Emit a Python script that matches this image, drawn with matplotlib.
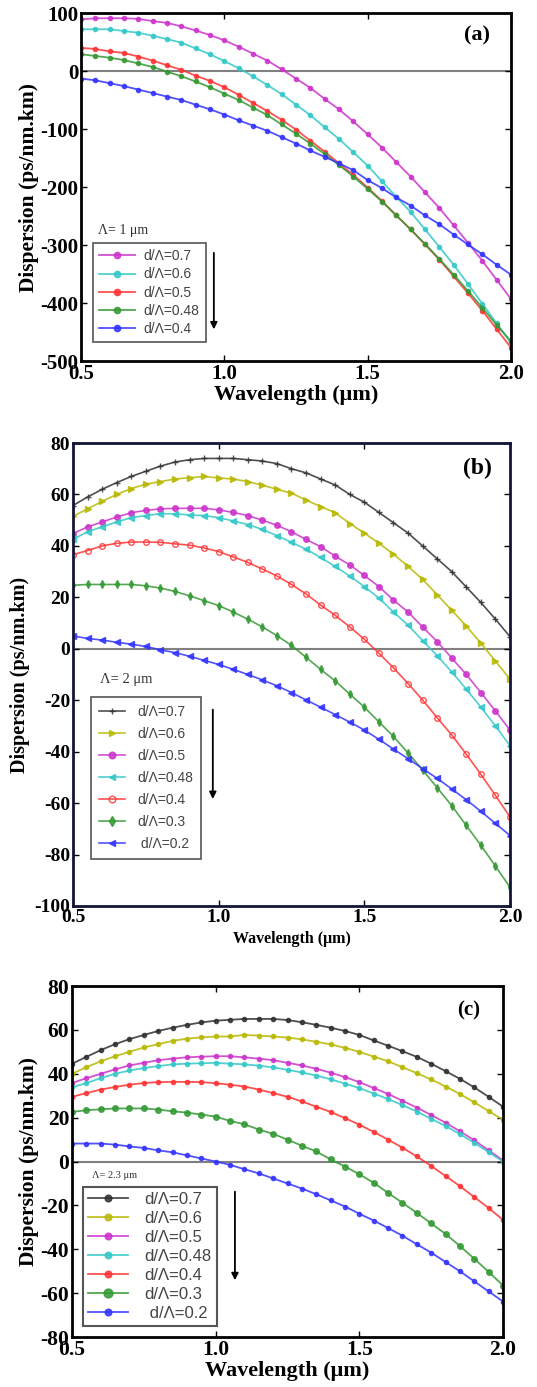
import numpy as np
import matplotlib
matplotlib.use('Agg')
import matplotlib.pyplot as plt

plt.rcParams['axes.unicode_minus'] = False

# wavelength samples (um), one marker every 0.05
wl = [0.50, 0.55, 0.60, 0.65, 0.70, 0.75, 0.80, 0.85, 0.90, 0.95,
      1.00, 1.05, 1.10, 1.15, 1.20, 1.25, 1.30, 1.35, 1.40, 1.45,
      1.50, 1.55, 1.60, 1.65, 1.70, 1.75, 1.80, 1.85, 1.90, 1.95, 2.00]

# (a) pitch 1 um
a_labels = ['d/\u039b=0.7', 'd/\u039b=0.6', 'd/\u039b=0.5', 'd/\u039b=0.48', 'd/\u039b=0.4']
a_07 = [89, 91, 91, 91, 90, 86, 83, 77, 70, 62, 53, 42, 30, 18, 3, -13, -29, -48, -66, -87,
        -109, -132, -157, -182, -209, -236, -266, -296, -327, -360, -393]
a_06 = [72, 72, 72, 69, 66, 61, 55, 49, 39, 29, 17, 5, -9, -24, -40, -58, -76, -97, -117, -140,
        -163, -190, -217, -243, -273, -303, -334, -367, -401, -435, -468]
a_05 = [40, 38, 34, 31, 25, 18, 10, 2, -8, -17, -28, -41, -55, -69, -84, -101, -120, -139, -159, -179,
        -201, -224, -249, -273, -299, -325, -354, -383, -413, -445, -477]
a_048 = [29, 26, 23, 19, 13, 7, -1, -9, -18, -28, -39, -50, -63, -76, -92, -108, -125, -143, -162, -182,
         -203, -225, -249, -273, -298, -324, -351, -379, -408, -438, -466]
a_04 = [-13, -16, -21, -26, -32, -38, -44, -50, -58, -66, -75, -85, -94, -103, -114, -125, -137, -148, -159, -171,
        -188, -202, -218, -232, -249, -264, -282, -299, -316, -334, -351]

# (b) pitch 2 um
b_labels = ['d/\u039b=0.7', 'd/\u039b=0.6', 'd/\u039b=0.5', 'd/\u039b=0.48', 'd/\u039b=0.4', 'd/\u039b=0.3', ' d/\u039b=0.2']
b_07 = [55.7, 59, 62, 64.6, 67, 69, 71, 72.6, 73.5, 74, 74, 74, 73.5, 73, 72, 70, 68.4, 66, 63.7, 60,
        57, 53, 49, 45, 40, 35, 30, 24, 18, 11.5, 4.7]
b_06 = [51.5, 54.4, 57.3, 60, 62.3, 64, 65, 66, 66.5, 67, 66.4, 66, 65, 63.6, 62, 60.5, 57.8, 55.3, 52.9, 48.7,
        45, 41, 36.8, 32, 27, 21, 15, 8.8, 2.2, -4.8, -11.8]
b_05 = [44.8, 47.4, 49.3, 51.2, 52.9, 53.8, 54.4, 54.6, 54.6, 54.6, 54, 53, 51.8, 50, 48, 45.5, 42.5, 39.7, 36, 32.6,
        28.5, 24.2, 18.9, 14.3, 8.5, 2.8, -3.6, -10, -17, -24.2, -31.6]
b_048 = [42.5, 45.5, 47.4, 49.3, 51, 51.8, 52.5, 52.5, 52, 51.8, 51, 49.7, 48.3, 46.4, 44, 41.4, 38.7, 35.5, 32, 28.3,
         24.2, 19.7, 14.3, 9.2, 3.2, -2.7, -9, -15.7, -22.7, -30, -37.7]
b_04 = [36.6, 38.2, 40, 41, 41.5, 41.5, 41.4, 40.8, 40.3, 39.2, 37.8, 35.7, 33.6, 31, 28.3, 25, 21.3, 17, 13, 8.5,
        3.7, -1.7, -7.4, -13.5, -19.9, -26.8, -33.5, -41, -48.8, -57, -65.4]
b_03 = [24.7, 25, 25, 25, 25, 24.5, 23.6, 22.3, 20.6, 18.7, 16.8, 14.3, 11.5, 8.5, 5.1, 1.3, -3.3, -8, -12.5, -17.6,
        -22.7, -28.4, -34.1, -40.5, -47.1, -54, -61, -68.7, -76.4, -84.5, -92.7]
b_02 = [5, 4, 3.4, 2.5, 1.8, 0.9, -0.4, -1.5, -2.9, -4.5, -6.1, -8, -10, -12.1, -14.4, -17, -19.9, -22.7, -25.6, -28.5,
        -31.6, -35.2, -39, -42.7, -46.6, -50.4, -54.5, -58.7, -63.2, -67.9, -72.6]

# (c) pitch 2.3 um
c_labels = ['d/\u039b=0.7', 'd/\u039b=0.6', 'd/\u039b=0.5', 'd/\u039b=0.48', 'd/\u039b=0.4', 'd/\u039b=0.3', ' d/\u039b=0.2']
c_07 = [44.6, 47.7, 50.8, 53.5, 55.8, 57.7, 59.5, 61, 62.3, 63.4, 64.2, 64.6, 65, 65, 65, 64.5, 63.5, 62.3, 61, 59.5,
        57.7, 55.2, 52.8, 50.3, 47.7, 44.6, 41.2, 37.7, 33.8, 29.5, 25]
c_06 = [40, 43, 45.7, 48, 50, 52, 53.5, 55, 56, 56.6, 57, 57, 57.7, 57.4, 57, 56.5, 55.7, 54.6, 53.4, 51.8,
        50, 47.8, 45.7, 43, 40.3, 37.4, 34.2, 30.8, 27, 23, 19]
c_05 = [35.8, 38, 40, 42, 43.8, 45, 46.2, 46.9, 47.5, 47.8, 48, 48, 47.5, 46.9, 46.2, 45, 43.8, 42.3, 40.5, 38.5,
        36.2, 33.5, 30.8, 27.7, 24.6, 21.2, 17.7, 13.8, 9.7, 5.1, 0.5]
c_048 = [33.8, 35.8, 38, 40, 41.5, 42.6, 43.5, 44.3, 44.6, 44.8, 45, 44.6, 44.3, 43.7, 42.9, 41.8, 40.6, 39.2, 37.5, 35.5,
         33.5, 31, 28.5, 25.7, 22.8, 19.5, 16.2, 12.5, 8.5, 4.3, 0]
c_04 = [29.5, 31.2, 32.8, 34, 35, 35.8, 36.2, 36.3, 36.3, 36.2, 35.7, 35, 34.2, 32.8, 31.2, 29.5, 27.4, 25, 22.6, 19.8,
        16.8, 13.5, 10, 6.3, 2.3, -2, -6.6, -11.2, -16.2, -21.2, -26.6]
c_03 = [22.6, 23.4, 23.8, 24.2, 24.2, 24.2, 23.7, 22.9, 22.3, 21.4, 20.5, 18.5, 17, 14.6, 12.6, 10, 7.2, 4.6, 1, -2.3,
        -5.8, -9.7, -14.3, -18.8, -23.4, -28.2, -33, -38.5, -44.3, -50.3, -56.5]
c_02 = [8.2, 8.2, 8.2, 7.7, 6.9, 6.2, 5.1, 4.2, 2.8, 1.4, 0, -1.5, -3.5, -5.4, -7.7, -10, -12.3, -14.9, -17.7, -20.5,
        -23.8, -26.9, -30.3, -33.8, -37.7, -41.5, -45.8, -50, -54.6, -59.2, -63.8]

serif = 'Liberation Serif'
sans = 'Liberation Sans'
col = {'k': '#303030', 'y': '#b8b800', 'm': '#cc33cc', 'c': '#33c8c8',
       'r': '#ff3333', 'g': '#339933', 'b': '#3333ff'}

fig = plt.figure(figsize=(5.37, 13.87), dpi=100)


def style_axes(ax, ylim, yticks, tick_fs, spine_col='black'):
    ax.set_xlim(0.5, 2.0)
    ax.set_ylim(*ylim)
    ax.set_xticks([0.5, 1.0, 1.5, 2.0])
    ax.set_xticklabels(['0.5', '1.0', '1.5', '2.0'])
    ax.set_yticks(yticks)
    ax.set_yticklabels([str(t) for t in yticks])
    ax.tick_params(direction='in', top=True, right=True, length=4, width=1)
    ax.tick_params(axis='x', pad=2)
    ax.tick_params(axis='y', pad=2)
    for lab in ax.get_xticklabels() + ax.get_yticklabels():
        lab.set_fontfamily(serif)
        lab.set_fontweight('bold')
        lab.set_fontsize(tick_fs)
    for s in ax.spines.values():
        s.set_linewidth(2)
        s.set_color(spine_col)
    ax.axhline(0, color='#808080', lw=1.5, zorder=1)


def finish_legend(leg, lw):
    leg.get_frame().set_linewidth(lw)
    for t in leg.get_texts():
        t.set_color('#444444')


# ---- (a)
ax1 = fig.add_axes([0.1508, 0.7397, 0.8007, 0.2509])
a_series = [a_07, a_06, a_05, a_048, a_04]
a_cols = ['m', 'c', 'r', 'g', 'b']
for vals, c, lab in zip(a_series, a_cols, a_labels):
    ax1.plot(wl, vals, color=col[c], lw=1.3, marker='o', ms=3, alpha=0.85, label=lab)
style_axes(ax1, (-500, 100), [-500, -400, -300, -200, -100, 0, 100], 15)
ax1.set_xlabel('Wavelength (\u03bcm)', fontfamily=serif, fontweight='bold', fontsize=16, labelpad=1)
ax1.set_ylabel('Dispersion (ps/nm.km)', fontfamily=serif, fontweight='bold', fontsize=15.5, labelpad=1)
ax1.text(0.92, 0.935, '(a)', transform=ax1.transAxes, fontfamily=serif, fontweight='bold',
         fontsize=16, ha='center', va='center')
ax1.text(0.04, 0.376, '\u039b= 1 \u03bcm', transform=ax1.transAxes, fontfamily=serif,
         fontsize=10, va='center', color='#333333')
leg = ax1.legend(loc='upper left', bbox_to_anchor=(0.028, 0.339), borderaxespad=0,
                 prop={'family': sans, 'size': 10}, handlelength=2.6, handletextpad=0.6,
                 labelspacing=0.3, fancybox=False, edgecolor='#555555', framealpha=1,
                 borderpad=0.45, markerscale=1.5)
finish_legend(leg, 1.2)
ax1.annotate('', xy=(0.309, 0.083), xytext=(0.309, 0.319), xycoords='axes fraction',
             arrowprops=dict(arrowstyle='-|>', color='black', lw=1.3, mutation_scale=10))

# ---- (b)
ax2 = fig.add_axes([0.1359, 0.3468, 0.8138, 0.3338])
b_series = [b_07, b_06, b_05, b_048, b_04, b_03, b_02]
b_cols = ['k', 'y', 'm', 'c', 'r', 'g', 'b']
b_marks = ['+', '>', 'o', '<', 'o', 'd', '<']
for vals, c, mk, lab in zip(b_series, b_cols, b_marks, b_labels):
    face = 'none' if c == 'r' else col[c]
    ax2.plot(wl, vals, color=col[c], lw=1.2, marker=mk, ms=4, mfc=face, mew=1, alpha=0.85, label=lab)
style_axes(ax2, (-100, 80), [-100, -80, -60, -40, -20, 0, 20, 40, 60, 80], 14, spine_col='#141438')
ax2.set_xlabel('Wavelength (\u03bcm)', fontfamily=serif, fontweight='bold', fontsize=11.5, labelpad=4)
ax2.set_ylabel('Dispersion (ps/nm.km)', fontfamily=serif, fontweight='bold', fontsize=14.5, labelpad=3)
ax2.text(0.925, 0.945, '(b)', transform=ax2.transAxes, fontfamily=serif, fontweight='bold',
         fontsize=17, ha='center', va='center')
ax2.text(0.062, 0.490, '\u039b= 2 \u03bcm', transform=ax2.transAxes, fontfamily=serif,
         fontsize=10.5, va='center', color='#333333')
leg = ax2.legend(loc='upper left', bbox_to_anchor=(0.041, 0.451), borderaxespad=0,
                 prop={'family': sans, 'size': 10}, handlelength=1.9, handletextpad=0.9,
                 labelspacing=0.58, fancybox=False, edgecolor='#555555', framealpha=1,
                 borderpad=0.55, markerscale=1.2)
finish_legend(leg, 1.2)
ax2.annotate('', xy=(0.320, 0.225), xytext=(0.320, 0.430), xycoords='axes fraction',
             arrowprops=dict(arrowstyle='-|>', color='black', lw=1.3, mutation_scale=10))

# ---- (c)
ax3 = fig.add_axes([0.1341, 0.0360, 0.8026, 0.2531])
c_series = [c_07, c_06, c_05, c_048, c_04, c_03, c_02]
c_cols = ['k', 'y', 'm', 'c', 'r', 'g', 'b']
for vals, c, lab in zip(c_series, c_cols, c_labels):
    ms = 4 if c == 'g' else 3
    ax3.plot(wl, vals, color=col[c], lw=1.3, marker='o', ms=ms, alpha=0.85, label=lab)
style_axes(ax3, (-80, 80), [-80, -60, -40, -20, 0, 20, 40, 60, 80], 15.5)
ax3.set_xlabel('Wavelength (\u03bcm)', fontfamily=serif, fontweight='bold', fontsize=16, labelpad=1)
ax3.set_ylabel('Dispersion (ps/nm.km)', fontfamily=serif, fontweight='bold', fontsize=15.5, labelpad=1)
ax3.text(0.92, 0.93, '(c)', transform=ax3.transAxes, fontfamily=serif, fontweight='bold',
         fontsize=15, ha='center', va='center')
ax3.text(0.046, 0.459, '\u039b= 2.3 \u03bcm', transform=ax3.transAxes, fontfamily=serif,
         fontsize=7.5, va='center', color='#333333')
leg = ax3.legend(loc='upper left', bbox_to_anchor=(0.0255, 0.427), borderaxespad=0,
                 prop={'family': sans, 'size': 12}, handlelength=2.4, handletextpad=1.0,
                 labelspacing=0.24, fancybox=False, edgecolor='#555555', framealpha=1,
                 borderpad=0.3, markerscale=1.6)
finish_legend(leg, 1.5)
ax3.annotate('', xy=(0.378, 0.154), xytext=(0.378, 0.422), xycoords='axes fraction',
             arrowprops=dict(arrowstyle='-|>', color='black', lw=1.3, mutation_scale=10))

fig.savefig('out.png', dpi=100)
